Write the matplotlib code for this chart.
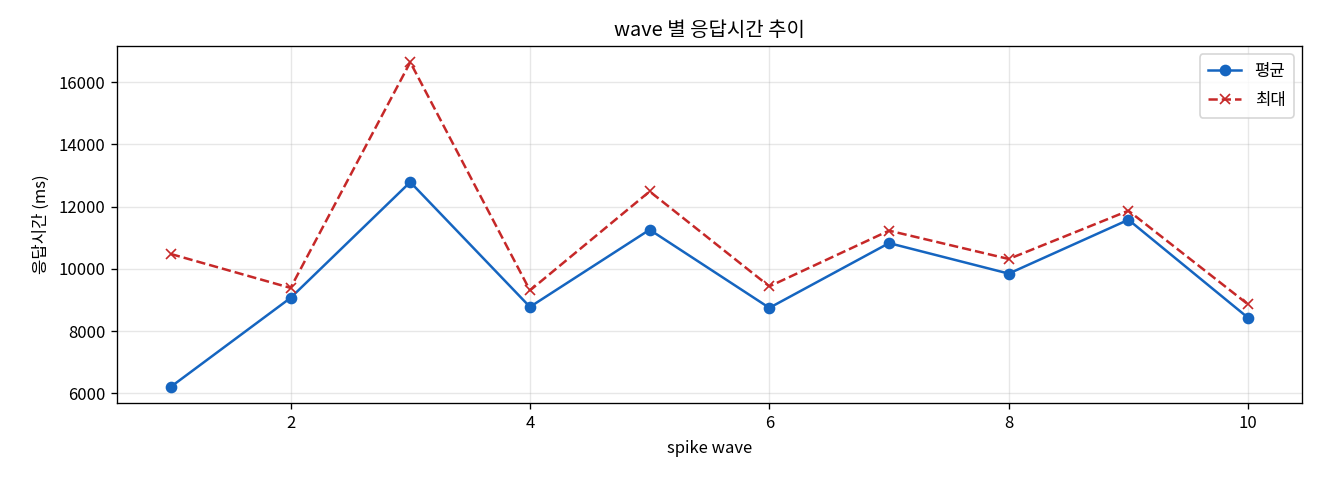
import matplotlib
matplotlib.use("Agg")
import matplotlib.pyplot as plt

plt.rcParams['font.family'] = ['Noto Sans CJK KR', 'DejaVu Sans']
plt.rcParams['axes.unicode_minus'] = False

waves = [1, 2, 3, 4, 5, 6, 7, 8, 9, 10]
avg_ms = [6215, 9070, 12790, 8780, 11260, 8750, 10830, 9850, 11580, 8430]
max_ms = [10480, 9390, 16640, 9310, 12490, 9440, 11230, 10320, 11870, 8860]

fig, ax = plt.subplots(figsize=(11, 4), dpi=120)
fig.subplots_adjust(left=117/1320, right=1302/1320, top=1-46/480, bottom=1-403/480)
ax.plot(waves, avg_ms, marker='o', linestyle='-', color='#1565C0', label='평균')
ax.plot(waves, max_ms, marker='x', linestyle='--', color='#C62828', label='최대')
ax.set_title('wave 별 응답시간 추이', pad=6)
ax.set_xlabel('spike wave', labelpad=5)
ax.set_ylabel('응답시간 (ms)', labelpad=5)
ax.grid(True, alpha=0.3)
ax.legend(loc='upper right', labelspacing=0.75, borderpad=0.5)
fig.savefig('out.png', dpi=120)
